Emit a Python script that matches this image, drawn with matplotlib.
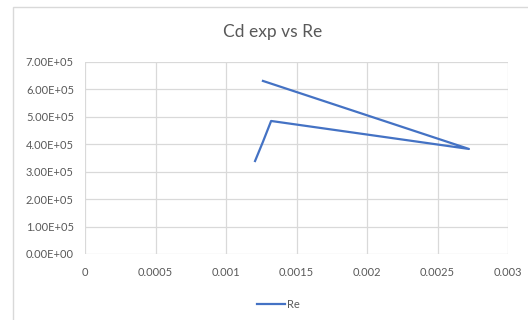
import matplotlib.pyplot as plt
from matplotlib.patches import Rectangle
from matplotlib.ticker import FuncFormatter

plt.rcParams['font.family'] = ['Lato', 'DejaVu Sans']

# Cd exp (x) against Re (y), in recorded order
cd_exp = [0.001206, 0.001262, 0.00132, 0.002723, 0.001262]
re_vals = [3.39e5, 4.09e5, 4.85e5, 3.83e5, 6.31e5]
x_ticks = [0, 0.0005, 0.001, 0.0015, 0.002, 0.0025, 0.003]
x_labels = ['0', '0.0005', '0.001', '0.0015', '0.002', '0.0025', '0.003']
y_ticks = [0, 1e5, 2e5, 3e5, 4e5, 5e5, 6e5, 7e5]

grey = '#595959'
grid = '#d9d9d9'

fig = plt.figure(figsize=(5.28, 3.2), dpi=100)
fig.patches.append(Rectangle((13 / 528, -0.1), 1.1, 1 - 7 / 320 + 0.1,
                             transform=fig.transFigure, fill=False,
                             edgecolor=grid, linewidth=1))

ax = fig.add_axes([85 / 528, 1 - 254 / 320, 423 / 528, 192 / 320])
ax.plot(cd_exp, re_vals, color='#4472C4', linewidth=1.6, label='Re')

ax.set_xlim(0, 0.003)
ax.set_ylim(0, 7e5)
ax.set_xticks(x_ticks)
ax.set_xticklabels(x_labels)
ax.set_yticks(y_ticks)
ax.yaxis.set_major_formatter(FuncFormatter(lambda v, p: f'{v:.2E}'))
ax.tick_params(length=0, labelsize=8, labelcolor=grey, pad=9)
ax.tick_params(axis='y', pad=8)
ax.grid(True, color=grid, linewidth=0.9)
ax.set_axisbelow(True)
for s in ax.spines.values():
    s.set_visible(False)

# title sits centred on the whole chart box, not the plot area
ax.set_title('Cd exp vs Re', fontsize=12.5, color=grey, pad=18, x=0.444)
ax.legend(loc='upper center', bbox_to_anchor=(0.457, -0.18), frameon=False,
          fontsize=8, labelcolor=grey, handlelength=2.5, handletextpad=0.2)

fig.savefig('out.png', dpi=100)
